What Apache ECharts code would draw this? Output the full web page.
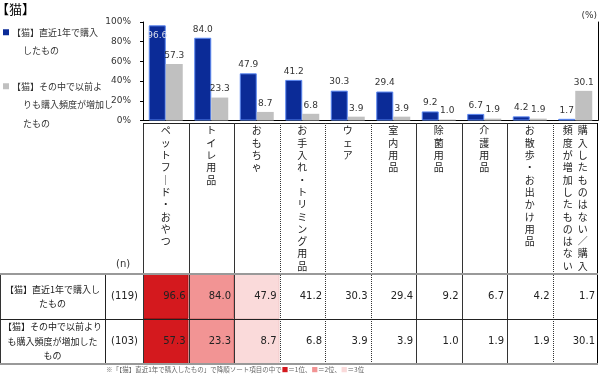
<!DOCTYPE html>
<html>
<head>
<meta charset="utf-8">
<script src="https://cdn.jsdelivr.net/npm/echarts@6/dist/echarts.min.js"></script>
<style>
  html, body { margin: 0; padding: 0; background: #fff; }
  #main { width: 600px; height: 376px; }
</style>
</head>
<body>
<div id="main"></div>
<script>
// 項目（x軸）
const categories = ['ペットフード・おやつ', 'トイレ用品', 'おもちゃ', 'お手入れ・トリミング用品', 'ウェア', '室内用品', '除菌用品', '介護用品', 'お散歩・お出かけ用品', '購入したものはない／購入頻度が増加したものはない'];
// 系列名
const seriesNames = ['【猫】直近1年で購入したもの', '【猫】その中で以前よりも購入頻度が増加したもの'];
// 系列の値（%）
const boughtValues = [96.6, 84.0, 47.9, 41.2, 30.3, 29.4, 9.2, 6.7, 4.2, 1.7];
const increasedValues = [57.3, 23.3, 8.7, 6.8, 3.9, 3.9, 1.0, 1.9, 1.9, 30.1];
// 表の行ラベルとn数
const rowLabels = ['【猫】直近1年で購入し\nたもの', '【猫】その中で以前より\nも購入頻度が増加した\nもの'];
const rowN = [119, 103];
// y軸目盛
const yTicks = [0, 20, 40, 60, 80, 100];

// レイアウト
const PLOT_LEFT = 143, PLOT_RIGHT = 2, PLOT_TOP = 22, PLOT_H = 98.5;
const HEADER_TOP = 123, TABLE_TOP = 274, TABLE_H = 90;
const JP_FONT = '"Noto Sans CJK JP", sans-serif';
const NUM_FONT = '"DejaVu Sans", "Noto Sans CJK JP", sans-serif';
const BLUE = '#0B2B97', GRAY = '#C0C0C0';
const rankColors = ['#D4191E', '#F29494', '#FADADA'];
const rankBorders = ['#A50F12', '#E07A7A', '#F0C8C8'];
// 列の左罫線：true=実線、false=点線
const leftBorderSolid = [true, true, true, false, false, false, true, true, true, false];

// 縦書きラベル（右の列から左へ）
function vertical(s) {
  const chars = Array.from(s.replace(/ー/g, '｜'));
  const perCol = 12;
  const cols = [];
  for (let i = 0; i < chars.length; i += perCol) cols.push(chars.slice(i, i + perCol));
  cols.reverse();
  const n = Math.max(...cols.map(c => c.length));
  const lines = [];
  for (let r = 0; r < n; r++) lines.push(cols.map(c => c[r] || '\u3000').join('\u2002'));
  return lines.join('\n');
}

// 順位（「ない」の列は対象外）
function ranksOf(values) {
  const ranked = values.slice(0, values.length - 1);
  const order = ranked.map((v, i) => i).sort((a, b) => ranked[b] - ranked[a]);
  return values.map((v, i) => {
    const k = order.indexOf(i);
    return k >= 0 && k < 3 ? k : -1;
  });
}

const rows = [boughtValues, increasedValues];
const tableData = [];
rows.forEach((vals, r) => {
  const rk = ranksOf(vals);
  vals.forEach((v, c) => tableData.push([c, r, v, rk[c]]));
});

const myChart = echarts.init(document.getElementById('main'));

const snap = x => Math.round(x) + 0.5;

function renderCell(params, api) {
  const c = api.value(0), r = api.value(1), v = api.value(2), rank = api.value(3);
  const pt = api.coord([c, r]);
  const sz = api.size([1, 1]);
  const w = sz[0], h = sz[1];
  const x0 = pt[0] - w / 2, y0 = pt[1] - h / 2;
  const right = x0 + w * (categories.length - c);
  const children = [];
  if (rank >= 0) {
    children.push({
      type: 'rect', z2: 0,
      shape: { x: x0 + 0.5, y: y0 + 0.5, width: w - 1, height: h - 1 },
      style: { fill: rankColors[rank], stroke: rankBorders[rank], lineWidth: 1 }
    });
  }
  children.push({
    type: 'text', z2: 5,
    style: {
      text: v.toFixed(1), x: x0 + w - 3, y: pt[1],
      align: 'right', verticalAlign: 'middle',
      fontSize: 10, fontFamily: NUM_FONT, fill: '#222'
    }
  });
  // 見出し（縦書きの項目名）
  if (r === 0) {
    children.push({
      type: 'text', z2: 5,
      style: {
        text: vertical(categories[c]), x: pt[0], y: HEADER_TOP + 1.5,
        align: 'center', verticalAlign: 'top',
        fontSize: 10, lineHeight: 12.3, fontFamily: JP_FONT, fill: '#222'
      }
    });
  }
  // 列の左罫線
  const top = r === 0 ? HEADER_TOP : y0;
  children.push({
    type: 'line', z2: 10,
    shape: { x1: snap(x0), y1: top, x2: snap(x0), y2: y0 + h },
    style: { stroke: '#333', lineWidth: 1, lineDash: leftBorderSolid[c] ? null : [1, 1] }
  });
  if (c === categories.length - 1) {
    children.push({
      type: 'line', z2: 10,
      shape: { x1: snap(x0 + w) - 1, y1: top, x2: snap(x0 + w) - 1, y2: y0 + h },
      style: { stroke: '#000', lineWidth: 1 }
    });
  }
  if (c === 0) {
    // 表の左端
    children.push({
      type: 'line', z2: 10,
      shape: { x1: 0.5, y1: y0, x2: 0.5, y2: y0 + h },
      style: { stroke: '#333', lineWidth: 1 }
    });
    if (r === 0) {
      children.push({
        type: 'line', z2: 10,
        shape: { x1: x0, y1: HEADER_TOP + 0.5, x2: right, y2: HEADER_TOP + 0.5 },
        style: { stroke: '#222', lineWidth: 1 }
      });
      children.push({
        type: 'line', z2: 11,
        shape: { x1: 0, y1: y0, x2: right, y2: y0 },
        style: { stroke: '#999', lineWidth: 2 }
      });
    } else {
      children.push({
        type: 'line', z2: 11,
        shape: { x1: 0, y1: snap(y0), x2: right, y2: snap(y0) },
        style: { stroke: '#222', lineWidth: 1 }
      });
      children.push({
        type: 'line', z2: 11,
        shape: { x1: 0, y1: y0 + h, x2: right, y2: y0 + h },
        style: { stroke: '#999', lineWidth: 2 }
      });
    }
  }
  return { type: 'group', children: children };
}

function legendText(name) {
  const chars = Array.from(name);
  const lines = [];
  for (let i = 0; i < chars.length; i += 10) lines.push(chars.slice(i, i + 10).join(''));
  const key = name === seriesNames[0] ? 'b0' : 'b1';
  return lines.map((l, i) => i === 0 ? '{' + key + '|}{gap|}{t|' + l + '}' : '{ind|}{t|' + l + '}').join('\n');
}

const option = {
  animation: false,
  title: [
    { text: '【猫】', left: -4, top: 3, padding: 0,
      textStyle: { fontSize: 13, fontWeight: 'normal', color: '#000', fontFamily: JP_FONT } },
    { text: '(%)', right: 3, top: 11, padding: 0,
      textStyle: { fontSize: 9, fontWeight: 'normal', color: '#333', fontFamily: NUM_FONT } },
    { text: '(n)', left: 116, top: 259, padding: 0,
      textStyle: { fontSize: 10, fontWeight: 'normal', color: '#333', fontFamily: NUM_FONT } },
    { text: '※「【猫】直近1年で購入したもの」で降順ソート項目の中で{r1|■}＝1位、{r2|■}＝2位、{r3|■}＝3位',
      left: 106, top: 366.5, padding: 0,
      textStyle: {
        fontSize: 6.5, fontWeight: 'normal', color: '#666', fontFamily: JP_FONT,
        rich: {
          r1: { color: rankColors[0], fontSize: 6.5 },
          r2: { color: rankColors[1], fontSize: 6.5 },
          r3: { color: rankColors[2], fontSize: 6.5 }
        }
      } }
  ],
  legend: {
    orient: 'vertical', left: -3, top: 23, padding: 0, itemGap: 17,
    itemWidth: 0, itemHeight: 0, selectedMode: false,
    data: seriesNames,
    formatter: legendText,
    textStyle: {
      fontSize: 9, color: '#333', fontFamily: JP_FONT, lineHeight: 18.5,
      rich: {
        b0: { width: 6, height: 6, backgroundColor: BLUE, lineHeight: 18.5 },
        b1: { width: 6, height: 6, backgroundColor: GRAY, lineHeight: 18.5 },
        gap: { width: 3, lineHeight: 18.5 },
        ind: { width: 20, lineHeight: 18.5 },
        t: { fontSize: 9, color: '#333', fontFamily: JP_FONT, lineHeight: 18.5 }
      }
    }
  },
  tooltip: { show: false },
  grid: [
    { left: PLOT_LEFT, right: PLOT_RIGHT, top: PLOT_TOP, height: PLOT_H },
    { left: PLOT_LEFT, right: PLOT_RIGHT, top: TABLE_TOP, height: TABLE_H }
  ],
  xAxis: [
    {
      type: 'category', gridIndex: 0, data: categories,
      axisLine: { lineStyle: { color: '#bbb', width: 1 } },
      axisTick: { show: false },
      axisLabel: { show: false }
    },
    {
      type: 'category', gridIndex: 0, position: 'top', data: categories,
      axisLine: { lineStyle: { color: '#000' } },
      axisTick: { show: false }, axisLabel: { show: false }
    },
    { type: 'category', gridIndex: 1, data: categories, show: false }
  ],
  yAxis: [
    {
      type: 'value', gridIndex: 0,
      min: yTicks[0], max: yTicks[yTicks.length - 1], interval: yTicks[1] - yTicks[0],
      axisLine: { show: true, lineStyle: { color: '#000' } },
      axisTick: { show: true, length: 3, lineStyle: { color: '#000' } },
      splitLine: { show: false },
      axisLabel: { formatter: '{value}%', margin: 12, fontSize: 9, color: '#333', fontFamily: NUM_FONT }
    },
    {
      type: 'value', gridIndex: 0, position: 'right',
      min: yTicks[0], max: yTicks[yTicks.length - 1],
      axisLine: { show: true, lineStyle: { color: '#000' } },
      axisTick: { show: false }, axisLabel: { show: false }, splitLine: { show: false }
    },
    {
      type: 'category', gridIndex: 1, inverse: true, position: 'left', offset: 0,
      data: rowN.map(n => '(' + n + ')'),
      axisLine: { show: true, lineStyle: { color: '#222' } },
      axisTick: { show: false }, splitLine: { show: false },
      axisLabel: { margin: 5, fontSize: 10, color: '#222', fontFamily: NUM_FONT }
    },
    {
      type: 'category', gridIndex: 1, inverse: true, position: 'left', offset: 38,
      data: rowLabels,
      axisLine: { show: true, lineStyle: { color: '#222' } },
      axisTick: { show: false }, splitLine: { show: false },
      axisLabel: { margin: 52.5, align: 'center', fontSize: 9, lineHeight: 14.5, color: '#222', fontFamily: JP_FONT }
    }
  ],
  series: [
    {
      name: seriesNames[0], type: 'bar', xAxisIndex: 0, yAxisIndex: 0,
      barWidth: 17, barGap: '0%',
      itemStyle: { color: BLUE, borderColor: '#5A86F0', borderWidth: 1 },
      label: {
        show: true, position: 'top', distance: 4, fontSize: 9, color: '#333', fontFamily: NUM_FONT,
        formatter: p => p.value.toFixed(1)
      },
      data: boughtValues.map(v => v > 90
        ? { value: v, label: { position: 'insideTop', distance: 6, color: '#d8dcec' } }
        : v)
    },
    {
      name: seriesNames[1], type: 'bar', xAxisIndex: 0, yAxisIndex: 0,
      barWidth: 17, barGap: '0%',
      itemStyle: { color: GRAY },
      label: {
        show: true, position: 'top', distance: 4, fontSize: 9, color: '#333', fontFamily: NUM_FONT,
        formatter: p => p.value.toFixed(1)
      },
      data: increasedValues
    },
    {
      name: 'table', type: 'custom', xAxisIndex: 2, yAxisIndex: 2,
      clip: false, silent: true,
      encode: { x: 0, y: 1 },
      renderItem: renderCell,
      data: tableData
    }
  ]
};

myChart.setOption(option);
</script>
</body>
</html>
